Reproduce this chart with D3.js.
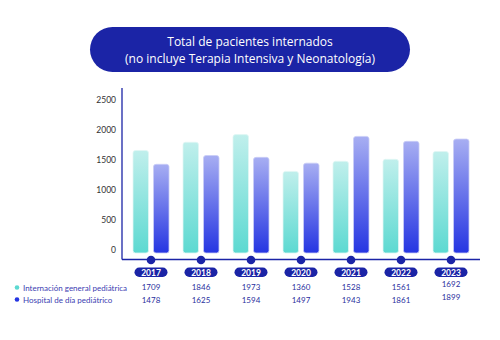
<!DOCTYPE html>
<html>
<head>
<meta charset="utf-8">
<title>Pacientes internados</title>
<script src="https://cdn.jsdelivr.net/npm/d3@7"></script>
<style>
body { margin: 0; background: #fff; }
text { font-family: Lato, "Open Sans", sans-serif; }
text.title { font-family: "Open Sans", sans-serif; }
</style>
</head>
<body>
<script>
var years = ["2017", "2018", "2019", "2020", "2021", "2022", "2023"];
var internacion = [1709, 1846, 1973, 1360, 1528, 1561, 1692];
var hospitalDia = [1478, 1625, 1594, 1497, 1943, 1861, 1899];
var yTicks = [0, 500, 1000, 1500, 2000, 2500];
var seriesNames = ["Internación general pediátrica", "Hospital de día pediátrico"];

var width = 500, height = 340;
var navy = "#1b24a6";

var svg = d3.select("body").append("svg")
  .attr("width", width).attr("height", height)
  .style("background", "white");

var defs = svg.append("defs");
function grad(id, top, bottom) {
  var g = defs.append("linearGradient").attr("id", id)
    .attr("x1", 0).attr("y1", 0).attr("x2", 0).attr("y2", 1);
  g.append("stop").attr("offset", "0%").attr("stop-color", top);
  g.append("stop").attr("offset", "100%").attr("stop-color", bottom);
}
grad("gTeal", "#c0efec", "#5cd9d1");
grad("gBlue", "#a7aef2", "#2535e2");

// title box
svg.append("rect")
  .attr("x", 90).attr("y", 27).attr("width", 320).attr("height", 45)
  .attr("rx", 22.5).attr("fill", navy);
svg.append("text").attr("class", "title").attr("x", 250).attr("y", 45.5)
  .attr("text-anchor", "middle").attr("fill", "white")
  .attr("font-size", 12).text("Total de pacientes internados");
svg.append("text").attr("class", "title").attr("x", 250).attr("y", 62.5)
  .attr("text-anchor", "middle").attr("fill", "white")
  .attr("font-size", 12).text("(no incluye Terapia Intensiva y Neonatología)");

var x = d3.scaleBand().domain(years).range([126, 476]).paddingInner(0).paddingOuter(0);
var y = d3.scaleLinear().domain([0, 2500]).range([253, 103]);

var barW = 15.5, gap = 5;

// y tick labels
svg.selectAll(".ytick").data(yTicks).enter().append("text")
  .attr("class", "ytick")
  .attr("x", 116).attr("y", function(d){ return y(d) - 0.5; })
  .attr("text-anchor", "end").attr("font-size", 8.5).attr("fill", "#333")
  .text(function(d){ return d; });

// axes lines
svg.append("line").attr("x1", 122).attr("x2", 122).attr("y1", 88).attr("y2", 259.5)
  .attr("stroke", navy).attr("stroke-width", 1.3);
svg.append("line").attr("x1", 122).attr("x2", 480).attr("y1", 259.5).attr("y2", 259.5)
  .attr("stroke", navy).attr("stroke-width", 1.3);

var groups = svg.selectAll(".grp").data(years).enter().append("g")
  .attr("class", "grp")
  .attr("transform", function(d){ return "translate(" + (x(d) + x.bandwidth() / 2) + ",0)"; });

// bars
groups.append("rect")
  .attr("x", -barW - gap / 2)
  .attr("y", function(d, i){ return y(internacion[i]); })
  .attr("width", barW)
  .attr("height", function(d, i){ return y(0) - y(internacion[i]); })
  .attr("rx", 2.5)
  .attr("fill", "url(#gTeal)").attr("stroke", "#dff6f4").attr("stroke-width", 0.8);
groups.append("rect")
  .attr("x", gap / 2)
  .attr("y", function(d, i){ return y(hospitalDia[i]); })
  .attr("width", barW)
  .attr("height", function(d, i){ return y(0) - y(hospitalDia[i]); })
  .attr("rx", 2.5)
  .attr("fill", "url(#gBlue)").attr("stroke", "#c9cdf6").attr("stroke-width", 0.8);

// dots on axis
groups.append("circle").attr("cx", 0).attr("cy", 260).attr("r", 4.3).attr("fill", navy);

// year pills
groups.append("rect")
  .attr("x", -16.5).attr("y", 267.5).attr("width", 33).attr("height", 9.5)
  .attr("rx", 4.75).attr("fill", navy);
groups.append("text")
  .attr("x", 0).attr("y", 275.5).attr("text-anchor", "middle")
  .attr("fill", "white").attr("font-size", 8.5).attr("font-weight", "bold")
  .text(function(d){ return d; });

// values
groups.append("text")
  .attr("x", 0).attr("y", function(d, i){ return i === 6 ? 287 : 290; })
  .attr("text-anchor", "middle").attr("font-size", 8).attr("fill", "#2a2f9e")
  .text(function(d, i){ return internacion[i]; });
groups.append("text")
  .attr("x", 0).attr("y", function(d, i){ return i === 6 ? 300 : 302.5; })
  .attr("text-anchor", "middle").attr("font-size", 8).attr("fill", "#2a2f9e")
  .text(function(d, i){ return hospitalDia[i]; });

// legend
var legendColors = ["#5cd9d1", "#2535e2"];
var leg = svg.selectAll(".leg").data(seriesNames).enter().append("g")
  .attr("class", "leg")
  .attr("transform", function(d, i){ return "translate(17," + (287.5 + i * 12) + ")"; });
leg.append("circle").attr("r", 2.3).attr("fill", function(d, i){ return legendColors[i]; });
leg.append("text").attr("x", 6).attr("y", 3).attr("font-size", 8)
  .attr("fill", "#3b40b2").text(function(d){ return d; });
</script>
</body>
</html>
